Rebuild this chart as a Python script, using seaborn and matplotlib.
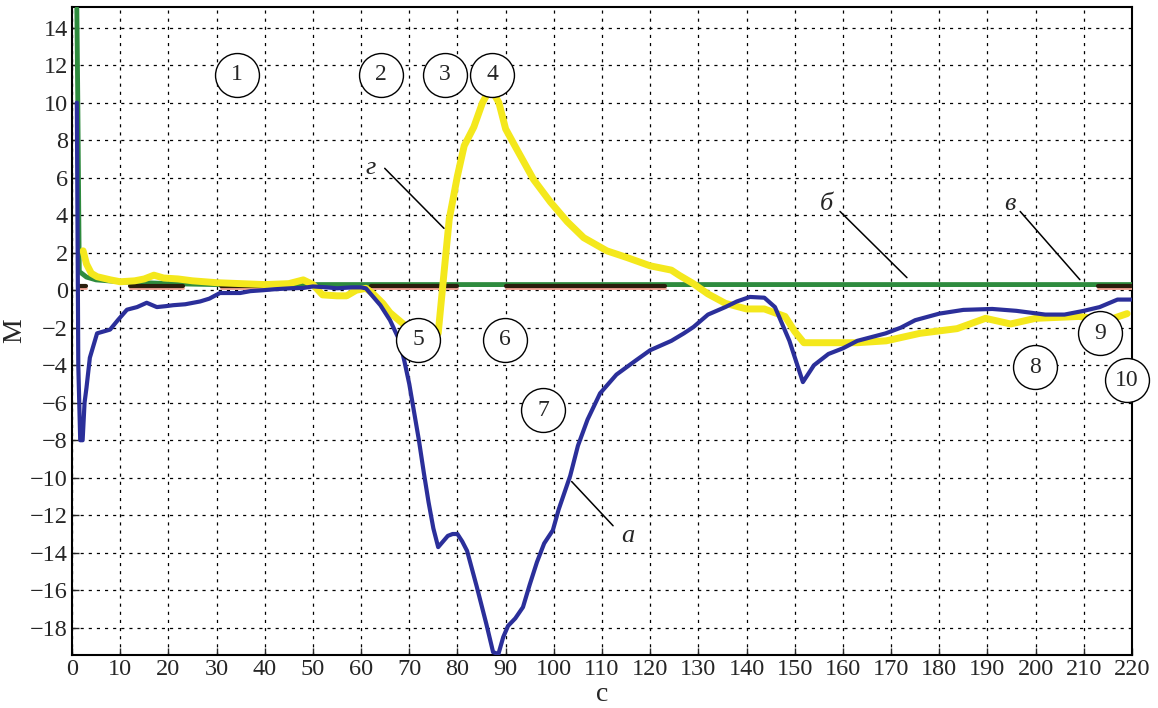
import numpy as np
import pandas as pd
import matplotlib
matplotlib.use("Agg")
import matplotlib.pyplot as plt
import seaborn as sns

# --- curve a (blue) ---
a_x = [1.0, 1.3, 1.7, 2.2, 2.6, 3.0, 3.7, 5.2, 7.9, 9.5, 11.4, 13.5, 15.5, 17.6, 19.5, 21, 23.5,
       26.6, 28.5, 30.7, 34.9, 37, 39.7, 42, 45.2, 48, 50, 53, 55, 58, 60, 61, 62, 64, 66, 68,
       69, 70, 71, 72, 73, 74, 75, 76, 77, 78, 79, 80, 81, 82, 84, 86, 87.4, 88.5, 89.5,
       90.5, 92, 93.6, 95, 96.5, 98, 99.8, 101, 103.4, 105, 107, 109.6, 113, 117, 120, 124.4,
       127, 129, 132, 135.6, 138, 140.7, 143.7, 145.9, 148.9, 151.7, 154, 157, 160, 163,
       168.9, 172, 175, 180, 185, 191, 196, 202, 206, 210, 213.3, 217, 219.8]
a_y = [10.0, -4.0, -8.0, -8.0, -6.0, -5.2, -3.6, -2.3, -2.1, -1.6, -1.04, -0.9, -0.67, -0.9, -0.85,
       -0.8, -0.75, -0.6, -0.45, -0.15, -0.15, -0.05, 0.0, 0.05, 0.1, 0.12, 0.2, 0.15, 0.1, 0.15,
       0.15, 0.1, -0.2, -0.8, -1.6, -2.7, -3.8, -5.0, -6.5, -8.0, -9.7, -11.3, -12.7, -13.7,
       -13.4, -13.1, -13.0, -13.0, -13.4, -13.9, -15.8, -17.8, -19.3, -19.4, -18.5, -17.9,
       -17.5, -16.9, -15.7, -14.5, -13.5, -12.8, -11.7, -9.9, -8.3, -6.9, -5.5, -4.5, -3.75,
       -3.2, -2.7, -2.3, -1.96, -1.3, -0.9, -0.6, -0.36, -0.4, -0.9, -2.7, -4.9, -4.0, -3.4,
       -3.1, -2.7, -2.3, -2.0, -1.6, -1.25, -1.05, -1.0, -1.1, -1.3, -1.3, -1.1, -0.9, -0.5, -0.5]

# --- curve г (yellow) ---
g_x = [2.3, 3.0, 4.0, 5.2, 8, 10, 13, 15, 17, 19, 22, 25, 30, 35, 40, 45, 48, 50, 52, 55, 57,
       59, 61, 62.4, 64.5, 66, 68.3, 71, 74, 76, 77.2, 78.3, 80, 81.4, 83.4, 85.2, 86.5, 87.5,
       88.6, 90, 91.7, 95.8, 99.3, 102.8, 106.2, 111, 115.2, 120, 124.4, 126, 128.9, 132,
       135.6, 140, 143.7, 148, 150, 151.9, 157.8, 163, 169, 176, 183.7, 189.6, 194.8, 200,
       209, 215, 219]
g_y = [2.1, 1.4, 0.9, 0.72, 0.55, 0.45, 0.5, 0.6, 0.8, 0.65, 0.6, 0.5, 0.4, 0.35, 0.3, 0.35,
       0.55, 0.3, -0.25, -0.3, -0.3, 0.0, 0.1, -0.17, -0.7, -1.2, -1.7, -2.3, -2.6, -2.3, 0.9,
       3.8, 6.1, 7.7, 8.7, 10.0, 10.6, 10.5, 10.0, 8.6, 7.8, 5.9, 4.7, 3.65, 2.8, 2.1, 1.74,
       1.3, 1.07, 0.8, 0.36, -0.2, -0.7, -1.0, -1.0, -1.4, -2.2, -2.8, -2.8, -2.8, -2.7, -2.3,
       -2.05, -1.5, -1.8, -1.5, -1.4, -1.6, -1.25]

# --- curve б (green) ---
b_x = [1.0, 1.2, 1.5, 3, 5, 10, 20, 30, 220]
b_y = [15.0, 10.0, 1.0, 0.7, 0.55, 0.45, 0.35, 0.3, 0.3]

# --- curve в (dark, visible pieces) ---
v_start = [1.5, 12, 31, 62, 90, 213]
v_end = [3.0, 23, 40, 80, 123, 220]
v_level = 0.24

# circled numbers
circ_num = ["1", "2", "3", "4", "5", "6", "7", "8", "9", "10"]
circ_x = [34.2, 64.1, 77.4, 87.2, 71.8, 89.9, 97.8, 199.9, 213.4, 219.0]
circ_y = [11.5, 11.5, 11.5, 11.5, -2.64, -2.64, -6.4, -4.1, -2.3, -4.8]

# curve letters: label, text pos, leader start, leader end
lab_txt = ["г", "б", "в", "а"]
lab_x = [61.9, 156.5, 194.7, 115.4]
lab_y = [6.5, 4.6, 4.6, -13.1]
lead_x0 = [64.9, 159.4, 196.8, 112.3]
lead_y0 = [6.5, 4.2, 4.2, -12.56]
lead_x1 = [77.2, 173.3, 209.2, 103.7]
lead_y1 = [3.3, 0.67, 0.56, -10.2]

sns.set_style("ticks")
plt.rcParams['font.family'] = ['Liberation Serif', 'DejaVu Serif']

fig = plt.figure(figsize=(11.58, 7.08), dpi=100)
ax = fig.add_axes([0.0622, 0.0749, 0.9153, 0.9152])

green = "#2e8b3e"
sns.lineplot(x=b_x, y=b_y, ax=ax, color=green, lw=3.5, sort=False, estimator=None, zorder=3)
for s, e in zip(v_start, v_end):
    xs = np.linspace(s, e, 20)
    sns.lineplot(x=xs, y=np.full_like(xs, v_level - 0.1), ax=ax, color="#f0a090",
                 lw=2, estimator=None, zorder=3.5)
    sns.lineplot(x=xs, y=np.full_like(xs, v_level), ax=ax, color="#2a1e0c",
                 lw=3, estimator=None, zorder=3.6)
sns.lineplot(x=g_x, y=g_y, ax=ax, color="#f4e81c", lw=5, sort=False, estimator=None, zorder=4)
sns.lineplot(x=a_x, y=a_y, ax=ax, color="#2b2f9a", lw=3, sort=False, estimator=None, zorder=5)

# circles with numbers
sns.scatterplot(x=circ_x, y=circ_y, ax=ax, s=1000, facecolor="white", edgecolor="black",
                linewidth=1.0, zorder=6, clip_on=False)
for t, x, y in zip(circ_num, circ_x, circ_y):
    ax.text(x, y, t, ha="center", va="center", fontsize=17, zorder=7, clip_on=False)

for t, x, y, x0, y0, x1, y1 in zip(lab_txt, lab_x, lab_y, lead_x0, lead_y0, lead_x1, lead_y1):
    ax.text(x, y, t, ha="center", va="center", fontsize=19, style="italic", zorder=7)
    ax.plot([x0, x1], [y0, y1], color="black", lw=1.1, zorder=7)

ax.set_xlim(0, 220)
ax.set_ylim(-19.45, 15.1)
ax.set_xticks(np.arange(0, 221, 10))
ax.set_yticks(np.arange(-18, 15, 2))
ax.set_yticklabels([str(v).replace("-", "\u2212") for v in range(-18, 15, 2)])
ax.grid(True, color="black", linestyle=(0, (2.5, 4)), lw=0.9)
ax.tick_params(direction="in", labelsize=17.5, length=5, width=1, top=False, right=False, pad=3)
for sp in ax.spines.values():
    sp.set_visible(True)
    sp.set_linewidth(1.5)
    sp.set_color("black")
ax.set_xlabel("c", fontsize=20, labelpad=1)
ax.set_ylabel("M", fontsize=20, labelpad=2)
if ax.get_legend():
    ax.get_legend().remove()

fig.savefig("out.png", dpi=100)
